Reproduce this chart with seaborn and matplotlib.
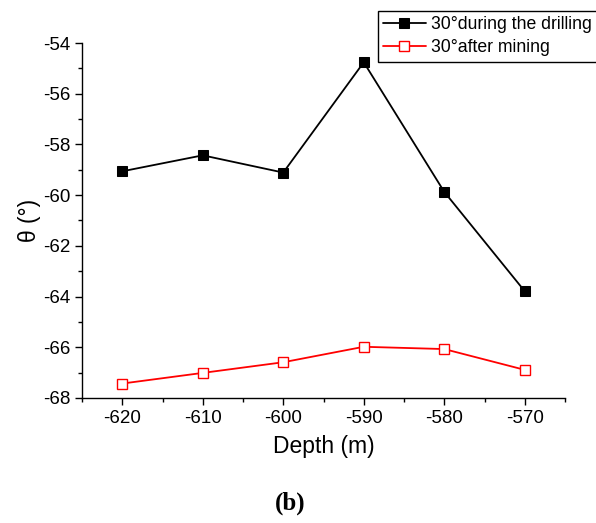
import matplotlib
matplotlib.use("Agg")
import matplotlib.pyplot as plt
import seaborn as sns
import pandas as pd
from matplotlib.ticker import MultipleLocator

depth = [-620, -610, -600, -590, -580, -570]
during_drilling = [-59.06, -58.43, -59.11, -54.76, -59.87, -63.79]
after_mining = [-67.43, -67.01, -66.59, -65.98, -66.07, -66.89]
series_names = ["30°during the drilling", "30°after mining"]

sns.set_style("ticks")
plt.rcParams['font.family'] = ['Liberation Sans', 'DejaVu Sans']
plt.rcParams['axes.unicode_minus'] = False
plt.rcParams['text.color'] = 'black'
plt.rcParams['axes.labelcolor'] = 'black'
plt.rcParams['xtick.color'] = 'black'
plt.rcParams['ytick.color'] = 'black'

df1 = pd.DataFrame({"Depth": depth, "theta": during_drilling})
df2 = pd.DataFrame({"Depth": depth, "theta": after_mining})

fig = plt.figure(figsize=(5.96, 5.23), dpi=100)
ax = fig.add_axes([82/596, 1-398/523, (565-82)/596, (398-43)/523])

sns.lineplot(data=df1, x="Depth", y="theta", ax=ax, color="black", marker="s",
             markersize=7, markerfacecolor="black", markeredgecolor="black",
             linewidth=1.3, label=series_names[0])
sns.lineplot(data=df2, x="Depth", y="theta", ax=ax, color="red", marker="s",
             markersize=7, markerfacecolor="white", markeredgecolor="red",
             markeredgewidth=1.0, linewidth=1.3, label=series_names[1])

ax.set_xlim(-625, -565)
ax.set_ylim(-68, -54)
ax.xaxis.set_major_locator(MultipleLocator(10))
ax.xaxis.set_minor_locator(MultipleLocator(5))
ax.yaxis.set_major_locator(MultipleLocator(2))
ax.yaxis.set_minor_locator(MultipleLocator(1))
ax.tick_params(which="major", direction="out", length=5, width=1, labelsize=13.5, colors="black")
ax.tick_params(which="minor", direction="out", length=3, width=1)
for s in ["top", "right"]:
    ax.spines[s].set_visible(False)
for s in ["left", "bottom"]:
    ax.spines[s].set_color("black")
    ax.spines[s].set_linewidth(1.0)

ax.set_xlabel("Depth (m)", fontsize=16.5, labelpad=6, color="black")
ax.set_ylabel("θ (°)", fontsize=16.5, labelpad=1, color="black")

leg = ax.legend(loc="upper left", bbox_to_anchor=(378/596, 1-11/523),
                bbox_transform=fig.transFigure, fontsize=12.7, frameon=True,
                fancybox=False, edgecolor="black", framealpha=1,
                borderpad=0.3, handlelength=2.4, handletextpad=0.3,
                labelspacing=0.35, borderaxespad=0)
leg.get_frame().set_linewidth(1.0)

fig.text(290/596, 1-503/523, "(b)", ha="center", va="center", fontsize=18,
         fontweight="bold", family=["Liberation Serif", "DejaVu Serif"])

fig.savefig("out.png", dpi=100)
